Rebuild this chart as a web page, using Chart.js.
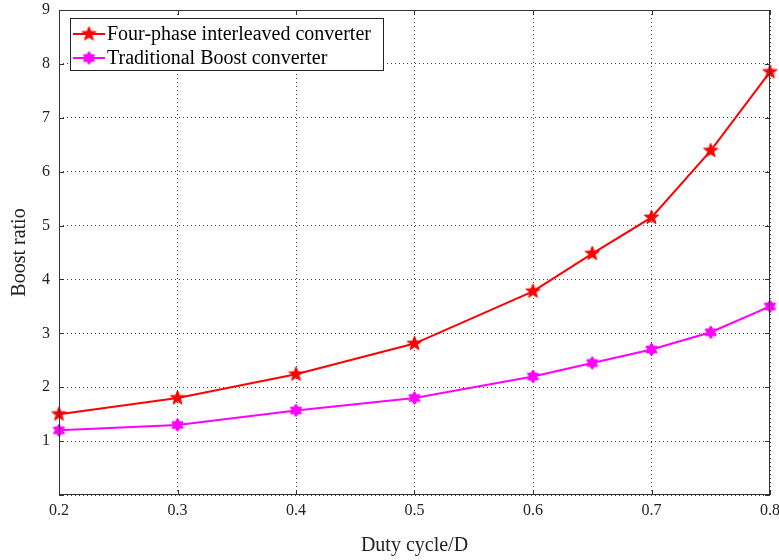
<!DOCTYPE html>
<html><head><meta charset="utf-8">
<script src="https://cdn.jsdelivr.net/npm/chart.js@4.4.1/dist/chart.umd.min.js"></script>
<style>html,body{margin:0;padding:0;background:#fff}#wrap{width:779px;height:560px}</style>
</head><body><div id="wrap"><canvas id="c" width="779" height="560"></canvas></div>
<script>
const dutyCycle = [0.2, 0.3, 0.4, 0.5, 0.6, 0.65, 0.7, 0.75, 0.8];
const fourPhase = [1.5, 1.8, 2.24, 2.81, 3.78, 4.48, 5.15, 6.39, 7.85];
const traditional = [1.2, 1.3, 1.57, 1.8, 2.2, 2.45, 2.7, 3.02, 3.5];
const seriesLabels = ['Four-phase interleaved converter', 'Traditional Boost converter'];
const xTitle = 'Duty cycle/D';
const yTitle = 'Boost ratio';

function starImg(points, color, r, inner) {
  const s = Math.ceil(r * 2 + 2);
  const cv = document.createElement('canvas');
  cv.width = s; cv.height = s;
  const g = cv.getContext('2d');
  g.translate(s / 2, s / 2);
  g.beginPath();
  for (let i = 0; i < points * 2; i++) {
    const rr = i % 2 === 0 ? r : r * inner;
    const a = -Math.PI / 2 + i * Math.PI / points;
    const x = rr * Math.cos(a), y = rr * Math.sin(a);
    i === 0 ? g.moveTo(x, y) : g.lineTo(x, y);
  }
  g.closePath();
  g.fillStyle = color; g.fill();
  g.strokeStyle = color; g.lineWidth = 1; g.stroke();
  return cv;
}
const redStar = starImg(5, '#ff0000', 7.5, 0.42);
const magStar = starImg(6, '#ff00ff', 6.5, 0.6);

const FONT = '"Liberation Serif", "Times New Roman", serif';

const framePlugin = {
  id: 'frame',
  afterDatasetsDraw(chart) {
    const { ctx, chartArea: a, scales } = chart;
    ctx.save();
    ctx.strokeStyle = '#333';
    ctx.lineWidth = 1;
    ctx.strokeRect(a.left + 0.5, a.top + 0.5, a.right - a.left - 1, a.bottom - a.top - 1);
    const L = 5;
    ctx.beginPath();
    scales.x.ticks.forEach(t => {
      const x = Math.round(scales.x.getPixelForValue(t.value)) + 0.5;
      ctx.moveTo(x, a.bottom); ctx.lineTo(x, a.bottom - L);
      ctx.moveTo(x, a.top); ctx.lineTo(x, a.top + L);
    });
    scales.y.ticks.forEach(t => {
      const y = Math.round(scales.y.getPixelForValue(t.value)) + 0.5;
      ctx.moveTo(a.left, y); ctx.lineTo(a.left + L, y);
      ctx.moveTo(a.right, y); ctx.lineTo(a.right - L, y);
    });
    ctx.stroke();
    // legend
    const lx = 70, ly = 18, lw = 313, lh = 52;
    ctx.fillStyle = '#fff';
    ctx.fillRect(lx, ly, lw, lh);
    ctx.strokeStyle = '#222';
    ctx.strokeRect(lx + 0.5, ly + 0.5, lw, lh);
    ctx.font = '20px ' + FONT;
    ctx.textBaseline = 'middle';
    chart.data.datasets.forEach((ds, i) => {
      const y = ly + 16 + i * 24;
      ctx.strokeStyle = ds.borderColor; ctx.lineWidth = 2;
      ctx.beginPath(); ctx.moveTo(lx + 3, y); ctx.lineTo(lx + 35, y); ctx.stroke();
      const img = ds.pointStyle;
      ctx.drawImage(img, lx + 19 - img.width / 2, y - img.height / 2);
      ctx.fillStyle = '#000';
      ctx.fillText(ds.label, lx + 37, y + 1);
    });
    // axis titles
    ctx.fillStyle = '#222';
    ctx.font = '20px ' + FONT;
    ctx.textAlign = 'center';
    ctx.fillText(xTitle, (a.left + a.right) / 2, 546);
    ctx.save();
    ctx.translate(20, (a.top + a.bottom) / 2);
    ctx.rotate(-Math.PI / 2);
    ctx.fillText(yTitle, 0, 0);
    ctx.restore();
    ctx.restore();
  }
};

new Chart(document.getElementById('c'), {
  type: 'line',
  data: {
    datasets: [
      { label: seriesLabels[0], data: dutyCycle.map((x, i) => ({ x, y: fourPhase[i] })),
        borderColor: '#ff0000', backgroundColor: '#ff0000', borderWidth: 2,
        pointStyle: redStar, pointRadius: 7, tension: 0, clip: false },
      { label: seriesLabels[1], data: dutyCycle.map((x, i) => ({ x, y: traditional[i] })),
        borderColor: '#ff00ff', backgroundColor: '#ff00ff', borderWidth: 2,
        pointStyle: magStar, pointRadius: 7, tension: 0, clip: false }
    ]
  },
  options: {
    responsive: false,
    animation: false,
    layout: { padding: { left: 0, right: 8, top: 10, bottom: 0 } },
    plugins: { legend: { display: false }, tooltip: { enabled: false } },
    scales: {
      x: {
        type: 'linear', min: 0.2, max: 0.8,
        ticks: { stepSize: 0.1, callback: v => v.toFixed(1), color: '#222',
          font: { family: FONT, size: 16 }, padding: 6, maxRotation: 0 },
        grid: { color: '#444', borderDash: [1, 3], drawTicks: false },
        border: { display: false, dash: [1, 3] },
        afterFit: s => { s.height = 65; s.paddingLeft = 0; s.paddingRight = 0; }
      },
      y: {
        min: 0, max: 9,
        ticks: { stepSize: 1, callback: v => v === 0 ? '' : String(v), color: '#222',
          font: { family: FONT, size: 16 }, padding: 9 },
        grid: { color: '#444', borderDash: [1, 3], drawTicks: false },
        border: { display: false, dash: [1, 3] },
        afterFit: s => { s.width = 59; s.paddingTop = 0; s.paddingBottom = 0; }
      }
    }
  },
  plugins: [framePlugin]
});
</script>
</body></html>
